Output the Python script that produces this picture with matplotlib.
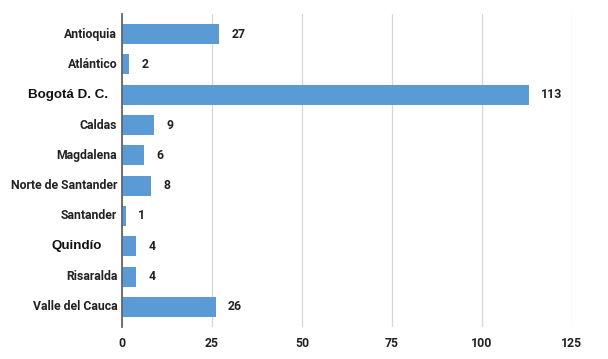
import matplotlib
matplotlib.use("Agg")
import matplotlib.pyplot as plt

departamentos = ["Antioquia", "Atlántico", "Bogotá D. C.", "Caldas", "Magdalena",
                 "Norte de Santander", "Santander", "Quindío", "Risaralda",
                 "Valle del Cauca"]
casos = [27, 2, 113, 9, 6, 8, 1, 4, 4, 26]
xticks = [0, 25, 50, 75, 100, 125]

# labels that appear in a larger, different font in the original
grandes = {"Bogotá D. C.": 9, "Quindío": 15}

bar_color = "#5b9bd5"

fig = plt.figure(figsize=(6.08, 3.59), dpi=100)
ax = fig.add_axes([122 / 608, 1 - 327 / 359, 450 / 608, 313 / 359])

pos = list(range(len(departamentos)))
ax.barh(pos, casos, height=0.66, color=bar_color, zorder=3)

ax.set_xlim(0, 125)
ax.set_ylim(len(departamentos) - 0.34, -0.66)

ax.set_xticks(xticks)
ax.set_xticklabels([str(t) for t in xticks], fontfamily="Roboto",
                   fontweight="bold", fontsize=8.8, color="#222222")
ax.tick_params(axis="x", length=0, pad=7)
ax.set_yticks([])

ax.grid(axis="x", color="#d6d6d6", linewidth=0.9, zorder=0)
for s in ["top", "right", "bottom"]:
    ax.spines[s].set_visible(False)
ax.spines["left"].set_color("#666666")
ax.spines["left"].set_linewidth(1.3)
ax.spines["left"].set_zorder(4)

# category labels
for i, name in enumerate(departamentos):
    if name in grandes:
        ax.annotate(name, xy=(0, i), xycoords=("axes fraction", "data"),
                    xytext=(-3.5 - grandes[name] * 0.72, 0), textcoords="offset points",
                    ha="right", va="center", fontsize=9.6, fontweight="bold",
                    fontfamily="Liberation Sans", color="#111111")
    else:
        ax.annotate(name, xy=(0, i), xycoords=("axes fraction", "data"),
                    xytext=(-3.5, 0), textcoords="offset points",
                    ha="right", va="center", fontsize=8.8, fontweight="bold",
                    fontfamily="Roboto", color="#222222")

# value labels
for i, v in enumerate(casos):
    ax.annotate(str(v), xy=(v, i), xytext=(9, 0), textcoords="offset points",
                ha="left", va="center", fontsize=8.8, fontweight="bold",
                fontfamily="Roboto", color="#222222")

fig.savefig("out.png", dpi=100)
